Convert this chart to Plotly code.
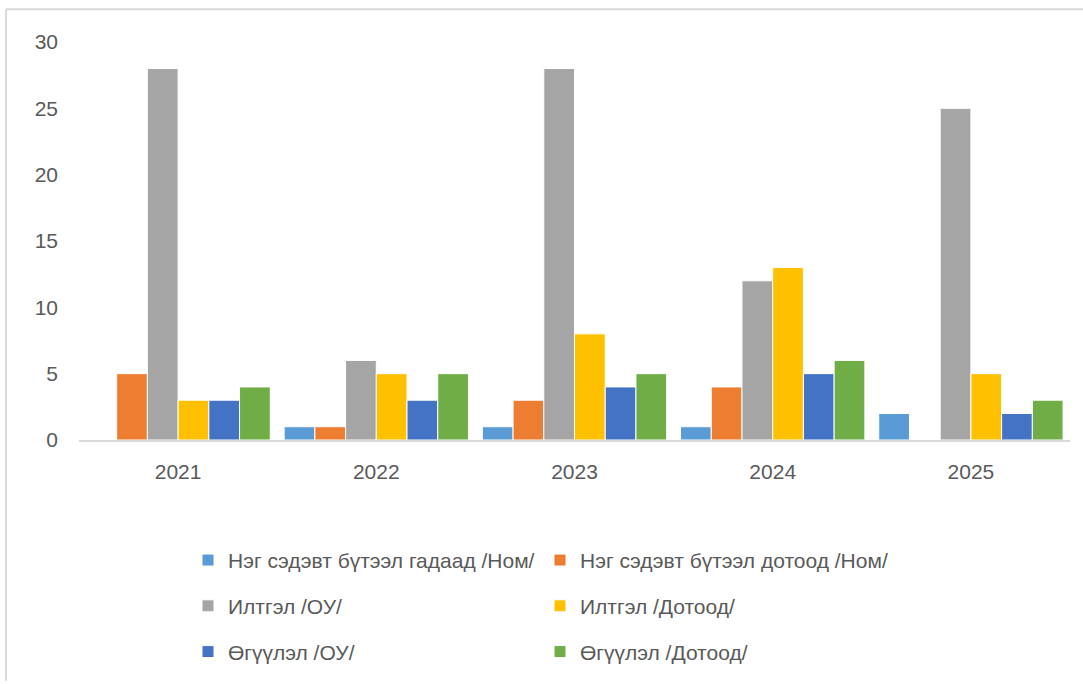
import plotly.graph_objects as go

years = ["2021", "2022", "2023", "2024", "2025"]
names = [
    "Нэг сэдэвт бүтээл гадаад /Ном/",
    "Нэг сэдэвт бүтээл дотоод /Ном/",
    "Илтгэл /ОУ/",
    "Илтгэл /Дотоод/",
    "Өгүүлэл /ОУ/",
    "Өгүүлэл /Дотоод/",
]
mono_foreign = [0, 1, 1, 1, 2]
mono_domestic = [5, 1, 3, 4, 0]
paper_intl = [28, 6, 28, 12, 25]
paper_domestic = [3, 5, 8, 13, 5]
article_intl = [3, 3, 4, 5, 2]
article_domestic = [4, 5, 5, 6, 3]
series = [mono_foreign, mono_domestic, paper_intl, paper_domestic, article_intl, article_domestic]
colors = ["#5B9BD5", "#ED7D31", "#A5A5A5", "#FFC000", "#4472C4", "#70AD47"]
legend_ids = ["legend", "legend", "legend2", "legend2", "legend3", "legend3"]

fig = go.Figure()
for n, v, c, lg in zip(names, series, colors, legend_ids):
    fig.add_trace(go.Bar(name=n, x=years, y=v, marker=dict(color=c, line=dict(color="white", width=1)),
                         legend=lg))

font = dict(family="Liberation Sans, Arial, sans-serif", size=21, color="#595959")
W, H = 1083, 684
L, R, T, B = 79, 13, 42, 242
pw, ph = W - L - R, H - T - B

def px(xp):
    return (xp - L) / pw

def py(yp):
    return (H - B - yp) / ph

leg_common = dict(orientation="h", xanchor="left", yanchor="middle", x=px(188),
                  entrywidth=307, entrywidthmode="pixels", font=font, bgcolor="rgba(0,0,0,0)",
                  traceorder="normal")

fig.update_layout(
    width=W, height=H,
    margin=dict(l=L, r=R, t=T, b=B),
    paper_bgcolor="white", plot_bgcolor="white",
    font=font,
    barmode="group", bargap=0.07, bargroupgap=0,
    xaxis=dict(showline=True, linecolor="#D9D9D9", linewidth=2, showgrid=False,
               ticks="", ticklabelstandoff=12, tickfont=font),
    yaxis=dict(range=[0, 30], dtick=5, showgrid=False, zeroline=False, showline=False,
               ticks="", ticklabelstandoff=20, tickfont=font),
    legend=dict(leg_common, y=py(563)),
    legend2=dict(leg_common, y=py(609)),
    legend3=dict(leg_common, y=py(655)),
    shapes=[
        dict(type="line", xref="paper", yref="paper", x0=px(6), x1=px(1083), y0=py(9), y1=py(9),
             line=dict(color="#D9D9D9", width=2)),
        dict(type="line", xref="paper", yref="paper", x0=px(6), x1=px(6), y0=py(9), y1=py(684),
             line=dict(color="#D9D9D9", width=2)),
    ],
)

fig.write_html("out.html", config={"displayModeBar": False},
               post_script="document.body.style.margin='0';")
